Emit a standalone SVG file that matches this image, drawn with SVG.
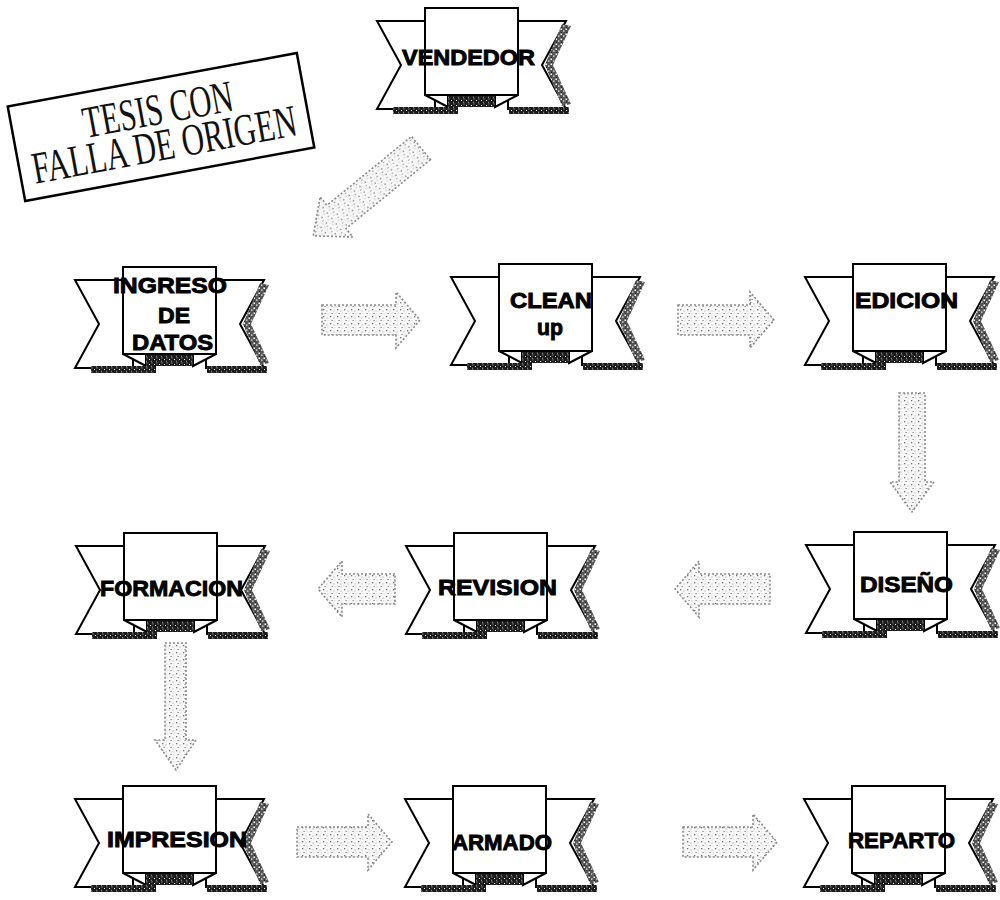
<svg xmlns="http://www.w3.org/2000/svg" xmlns:xlink="http://www.w3.org/1999/xlink" width="1000" height="900" viewBox="0 0 1000 900">
<style>
.lbl{font-family:"Liberation Sans",Arial,sans-serif;font-weight:bold;font-size:22px;fill:#000;stroke:#000;stroke-width:0.9}
.stamp{font-family:"Liberation Serif","Times New Roman",serif;font-size:45px;fill:#111}
.arw{fill:url(#stip);stroke:#8a8a8a;stroke-width:1.6;stroke-dasharray:2 2}
.ln{fill:#fff;stroke:#000;stroke-width:2;stroke-linejoin:miter}
</style>
<defs>
<pattern id="stip" width="7" height="7" patternUnits="userSpaceOnUse">
<rect width="7" height="7" fill="#f8f8f8"/>
<rect x="1" y="1" width="1.3" height="1.3" fill="#6f6f6f"/>
<rect x="4.5" y="2.5" width="1" height="1" fill="#a0a0a0"/>
<rect x="2.5" y="5" width="1.2" height="1" fill="#7a7a7a"/>
<rect x="5.5" y="5.5" width="0.8" height="0.8" fill="#b8b8b8"/>
</pattern>
<pattern id="dark" width="5" height="5" patternUnits="userSpaceOnUse">
<rect width="5" height="5" fill="#1c1c1c"/>
<rect x="1" y="2" width="1" height="1" fill="#fff"/>
<rect x="3.5" y="0.5" width="0.9" height="0.9" fill="#ddd"/>
<rect x="3" y="3.8" width="0.8" height="0.8" fill="#eee"/>
</pattern>
<pattern id="mid" width="5" height="5" patternUnits="userSpaceOnUse">
<rect width="5" height="5" fill="#555"/>
<rect x="0.5" y="0.5" width="1.5" height="1.5" fill="#fff"/>
<rect x="3" y="2.5" width="1.5" height="1.2" fill="#eee"/>
<rect x="1" y="3.8" width="1" height="1" fill="#111"/>
</pattern>
<g id="rib">
<polygon class="ln" points="-48,13 10,13 10,101 -48,101 -24,57"/>
<polygon class="ln" points="141,13 83,13 83,101 141,101 117,57"/>
<polygon points="137,16 120,57 137,98 146,96 128,57 146,18" fill="url(#mid)"/>
<polygon class="ln" points="0,87 23,99 23,87"/>
<polygon class="ln" points="93,87 70,99 70,87"/>
<rect x="23" y="88" width="47" height="11" fill="url(#dark)"/>
<rect x="-32" y="99" width="65" height="7" fill="url(#dark)"/>
<rect x="84" y="99" width="60" height="7" fill="url(#dark)"/>
<rect class="ln" x="0" y="0" width="93" height="87"/>
</g>
</defs>

<g id="stamp" transform="translate(161,127) rotate(-10.5)">
<rect x="-147" y="-48" width="294" height="96" fill="#fff" stroke="#000" stroke-width="2.5"/>
<text class="stamp" x="0" y="-3" text-anchor="middle" textLength="152" lengthAdjust="spacingAndGlyphs">TESIS CON</text>
<text class="stamp" x="0" y="33" text-anchor="middle" textLength="268" lengthAdjust="spacingAndGlyphs">FALLA DE ORIGEN</text>
</g>

<g id="connectors">
<path class="arw" transform="translate(421,148) rotate(140.8)" d="M0,-15 H109 V-26 L139,0 L109,26 V15 H0 Z"/>
<path class="arw" d="M322,305 H396 V292 L420,320 L396,348 V335 H322 Z"/>
<path class="arw" d="M678,305 H750 V292 L774,320 L750,348 V335 H678 Z"/>
<path class="arw" d="M899,393 H925 V482 H934 L912,512 L890,482 H899 Z"/>
<path class="arw" d="M770,574 H699 V561 L675,589 L699,617 V604 H770 Z"/>
<path class="arw" d="M395,574 H342 V561 L318,589 L342,617 V604 H395 Z"/>
<path class="arw" d="M165,643 H186 V740 H196 L176,770 L155,740 H165 Z"/>
<path class="arw" d="M297,827 H368 V814 L392,842 L368,870 V857 H297 Z"/>
<path class="arw" d="M683,827 H753 V814 L777,842 L753,870 V857 H683 Z"/>
</g>

<g id="n-vendedor"><use xlink:href="#rib" href="#rib" transform="translate(425,8)"/>
<text class="lbl" x="402" y="65" textLength="133" lengthAdjust="spacingAndGlyphs">VENDEDOR</text></g>

<g id="n-ingreso"><use xlink:href="#rib" href="#rib" transform="translate(123,267)"/>
<text class="lbl" x="113" y="293" textLength="114" lengthAdjust="spacingAndGlyphs">INGRESO</text>
<text class="lbl" x="158" y="323" textLength="32" lengthAdjust="spacingAndGlyphs">DE</text>
<text class="lbl" x="132" y="350" textLength="81" lengthAdjust="spacingAndGlyphs">DATOS</text></g>

<g id="n-clean"><use xlink:href="#rib" href="#rib" transform="translate(499,264)"/>
<text class="lbl" x="510" y="308" textLength="82" lengthAdjust="spacingAndGlyphs">CLEAN</text>
<text class="lbl" x="537" y="335" textLength="26" lengthAdjust="spacingAndGlyphs">up</text></g>

<g id="n-edicion"><use xlink:href="#rib" href="#rib" transform="translate(853,264)"/>
<text class="lbl" x="855" y="308" textLength="103" lengthAdjust="spacingAndGlyphs">EDICION</text></g>

<g id="n-formacion"><use xlink:href="#rib" href="#rib" transform="translate(124,533)"/>
<text class="lbl" x="100" y="596" textLength="143" lengthAdjust="spacingAndGlyphs">FORMACION</text></g>

<g id="n-revision"><use xlink:href="#rib" href="#rib" transform="translate(454,533)"/>
<text class="lbl" x="438" y="595" textLength="119" lengthAdjust="spacingAndGlyphs">REVISION</text></g>

<g id="n-diseno"><use xlink:href="#rib" href="#rib" transform="translate(854,532)"/>
<text class="lbl" x="860" y="592" textLength="93" lengthAdjust="spacingAndGlyphs">DISEÑO</text></g>

<g id="n-impresion"><use xlink:href="#rib" href="#rib" transform="translate(123,786)"/>
<text class="lbl" x="107" y="847" textLength="140" lengthAdjust="spacingAndGlyphs">IMPRESION</text></g>

<g id="n-armado"><use xlink:href="#rib" href="#rib" transform="translate(453,786)"/>
<text class="lbl" x="452" y="850" textLength="100" lengthAdjust="spacingAndGlyphs">ARMADO</text></g>

<g id="n-reparto"><use xlink:href="#rib" href="#rib" transform="translate(852,786)"/>
<text class="lbl" x="848" y="848" textLength="107" lengthAdjust="spacingAndGlyphs">REPARTO</text></g>
</svg>
